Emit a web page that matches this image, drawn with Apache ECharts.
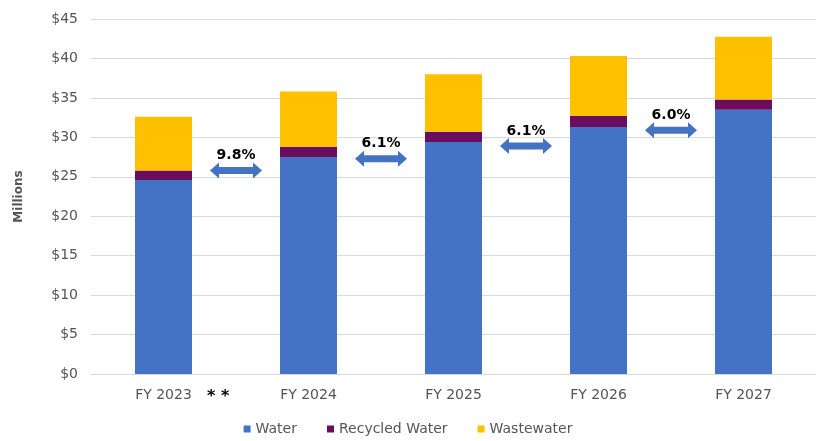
<!DOCTYPE html>
<html><head><meta charset="utf-8">
<script src="https://cdn.jsdelivr.net/npm/echarts@6/dist/echarts.min.js"></script>
<style>html,body{margin:0;padding:0;background:#fff}#c{width:816px;height:441px}</style>
</head><body><div id="c"></div>
<script>
const categories = ['FY 2023', 'FY 2024', 'FY 2025', 'FY 2026', 'FY 2027'];
const water = [24.6, 27.5, 29.4, 31.3, 33.5];
const recycled = [1.2, 1.3, 1.3, 1.4, 1.3];
const wastewater = [6.8, 7.0, 7.3, 7.6, 7.95];
const growthPos = [0.5, 1.5, 2.5, 3.5];
const growthY = [25.8, 27.3, 28.9, 30.9];
const growthLabels = ['9.8%', '6.1%', '6.1%', '6.0%'];

const font = 'DejaVu Sans';
const chart = echarts.init(document.getElementById('c'));
chart.setOption({
  animation: false,
  textStyle: { fontFamily: font },
  grid: { left: 91, right: 0, top: 19, bottom: 67 },
  legend: {
    bottom: 0, left: 'center', itemWidth: 7, itemHeight: 7, itemGap: 30,
    icon: 'rect',
    textStyle: { fontSize: 14, color: '#555', fontFamily: font },
    data: ['Water', 'Recycled Water', 'Wastewater']
  },
  xAxis: [{
    type: 'category', data: categories,
    axisLine: { lineStyle: { color: '#d9d9d9' } },
    axisTick: { show: false },
    axisLabel: { color: '#555', fontSize: 14, margin: 14, fontFamily: font }
  }, {
    type: 'value', min: -0.5, max: 4.5, show: false
  }],
  yAxis: {
    type: 'value', min: 0, max: 45, interval: 5,
    name: 'Millions', nameLocation: 'middle', nameGap: 66,
    nameTextStyle: { color: '#555', fontSize: 12, fontWeight: 'bold', fontFamily: font },
    axisLine: { show: false }, axisTick: { show: false },
    splitLine: { lineStyle: { color: '#d9d9d9' } },
    axisLabel: { color: '#555', fontSize: 14, margin: 13, formatter: v => '$' + v, fontFamily: font }
  },
  series: [
    { name: 'Water', type: 'bar', stack: 't', data: water, barWidth: 57, itemStyle: { color: '#4472C4' } },
    { name: 'Recycled Water', type: 'bar', stack: 't', data: recycled, itemStyle: { color: '#6B0D5E' } },
    { name: 'Wastewater', type: 'bar', stack: 't', data: wastewater, itemStyle: { color: '#FFC000' } },
    {
      name: 'growth', type: 'scatter', xAxisIndex: 1,
      data: growthPos.map((x, i) => ({ value: [x, growthY[i]], name: growthLabels[i] })),
      symbol: 'path://M0,8 L9,0 L9,4.5 L43,4.5 L43,0 L52,8 L43,16 L43,11.5 L9,11.5 L9,16 Z',
      symbolSize: [52, 16],
      itemStyle: { color: '#4472C4', opacity: 1 },
      label: { show: true, position: 'top', distance: 0, formatter: p => p.name,
        color: '#000', fontWeight: 'bold', fontSize: 14, fontFamily: font },
      z: 5
    }
  ],
  graphic: [{
    type: 'text', left: 207, top: 389,
    style: { text: '* *', fill: '#000', font: 'bold 16px ' + font }
  }]
});
</script></body></html>
